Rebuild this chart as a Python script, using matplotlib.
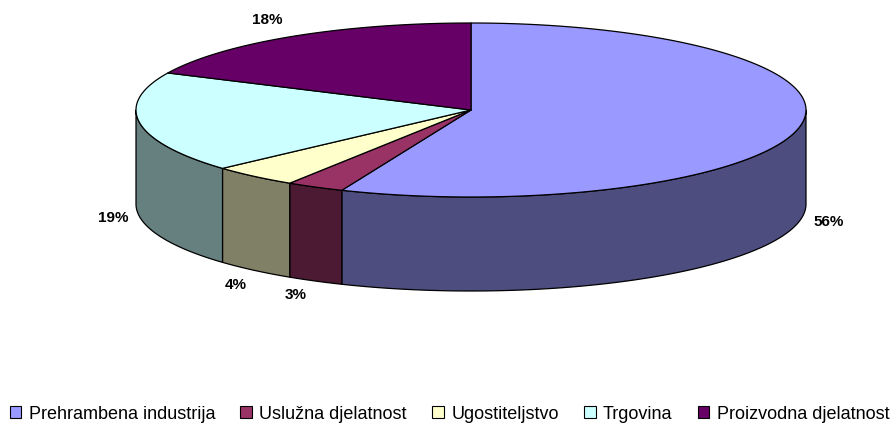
import numpy as np
import matplotlib
matplotlib.use("Agg")
import matplotlib.pyplot as plt
from matplotlib.patches import Patch

# data
categories = ["Prehrambena industrija", "Uslužna djelatnost", "Ugostiteljstvo", "Trgovina", "Proizvodna djelatnost"]
values = [56.3, 2.8, 4.2, 18.7, 18.0]
top_colors = ["#9999ff", "#993366", "#ffffcc", "#ccffff", "#660066"]
side_colors = ["#4d4d80", "#4d1a33", "#808066", "#668080", "#330033"]

# layout, in pixels of the reference
cx, cy = 471, 110
rx, ry = 335, 87
depth = 94
label_pos = [(829, 222), (296, 295), (236, 285), (113, 218), (267, 20)]

plt.rcParams["font.family"] = ["Liberation Sans", "DejaVu Sans"]

fig = plt.figure(figsize=(8.92, 4.23), dpi=100)
ax = fig.add_axes([0, 0, 1, 1])
ax.set_xlim(0, 892)
ax.set_ylim(423, 0)
ax.axis("off")


def rim(a0, a1):
    # angles clockwise from 12 o'clock, degrees
    t = np.radians(np.linspace(a0, a1, 200))
    return cx + rx * np.sin(t), cy - ry * np.cos(t)


edges = np.concatenate([[0], np.cumsum(values)]) * 360.0 / sum(values)

# side wall, only the front half shows
for i in range(len(values)):
    a0 = max(edges[i], 90)
    a1 = min(edges[i + 1], 270)
    if a1 <= a0:
        continue
    x, y = rim(a0, a1)
    ax.fill(np.r_[x, x[::-1]], np.r_[y, y[::-1] + depth], facecolor=side_colors[i],
            edgecolor="black", linewidth=0.9, joinstyle="round")

# top face
for i in range(len(values)):
    x, y = rim(edges[i], edges[i + 1])
    ax.fill(np.r_[cx, x], np.r_[cy, y], facecolor=top_colors[i],
            edgecolor="black", linewidth=0.9, joinstyle="round")

for v, (lx, ly) in zip(values, label_pos):
    ax.text(lx, ly, "%.0f%%" % v, ha="center", va="center", fontsize=11, fontweight="bold")

handles = [Patch(facecolor=c, edgecolor="black", linewidth=0.8) for c in top_colors]
fig.legend(handles, categories, loc="center", bbox_to_anchor=(449.5 / 892, 1 - 414 / 423),
           ncol=5, frameon=False, fontsize=13, handlelength=0.65, handleheight=0.65,
           handletextpad=0.4, columnspacing=1.4, borderpad=0)

fig.savefig("out.png", dpi=100)
